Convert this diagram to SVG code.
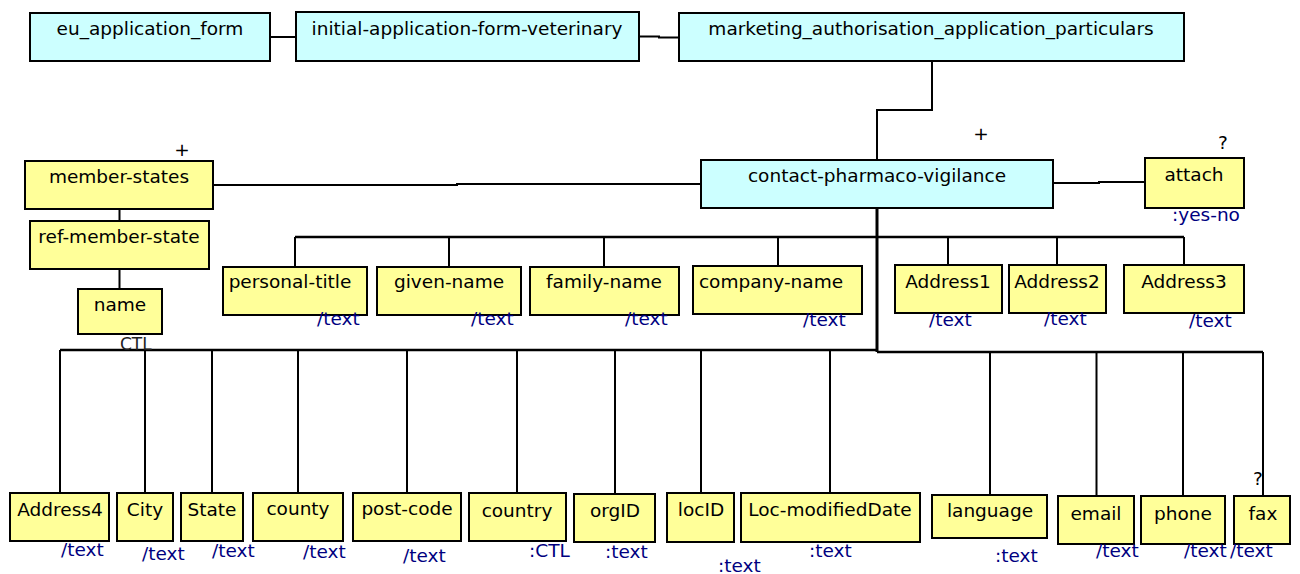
<svg xmlns="http://www.w3.org/2000/svg" width="1300" height="574" viewBox="0 0 1300 574">
<style>
rect.c{fill:#CCFFFF;stroke:#000;stroke-width:2}
rect.y{fill:#FFFF99;stroke:#000;stroke-width:2}
text{font-family:"DejaVu Sans","Liberation Sans",sans-serif;font-size:18.5px;fill:#000}
text.n{text-anchor:middle}
text.t{fill:#000080}
text.m{text-anchor:middle}
#connectors path,#connectors line{fill:none;stroke:#000;stroke-width:2}
</style>
<rect width="1300" height="574" fill="#fff"/>
<g id="connectors">
<line x1="270" y1="37" x2="296" y2="37"/>
<path d="M639 36.5H659V37.5H679"/>
<path d="M932 61V110H877V160"/>
<path d="M701 184H457V185H213"/>
<path d="M1053 183H1099V182H1145"/>
<line x1="119.5" y1="209" x2="119.5" y2="221"/>
<line x1="119.5" y1="269" x2="119.5" y2="289"/>
<line x1="877" y1="208" x2="877" y2="352" style="stroke-width:3"/>
<line x1="295" y1="237" x2="1184" y2="237" style="stroke-width:2.5"/>
<path d="M295 237V267M449 237V267M604 237V267M778 237V266M948 237V265M1057 237V265M1184 237V265"/>
<line x1="60" y1="350" x2="877" y2="350" style="stroke-width:2.5"/>
<line x1="877" y1="352" x2="1263" y2="352" style="stroke-width:2.5"/>
<path d="M60 350V493M145 350V493M212 350V493M298 350V493M407 350V493M517 350V493M615 350V494M701 350V493M830 350V493M990 352V495M1096.5 352V496M1183 352V496M1263 352V496"/>
</g>
<g id="eu_application_form"><rect class="c" x="30" y="13" width="240" height="48"/><text class="n" x="150" y="35">eu_application_form</text></g>
<g id="initial-application-form-veterinary"><rect class="c" x="296" y="12" width="343" height="49"/><text class="n" x="467" y="34.5">initial-application-form-veterinary</text></g>
<g id="marketing_authorisation_application_particulars"><rect class="c" x="679" y="13" width="505" height="48"/><text class="n" x="931" y="35">marketing_authorisation_application_particulars</text></g>
<g id="contact-pharmaco-vigilance"><rect class="c" x="701" y="160" width="352" height="48"/><text class="n" x="877" y="182">contact-pharmaco-vigilance</text><text class="m" x="981" y="140">+</text></g>
<g id="member-states"><rect class="y" x="25" y="161" width="188" height="48"/><text class="n" x="119" y="183">member-states</text><text class="m" x="182" y="156">+</text></g>
<g id="ref-member-state"><rect class="y" x="30" y="221" width="179" height="48"/><text class="n" x="119" y="243">ref-member-state</text></g>
<g id="name"><rect class="y" x="78" y="289" width="84" height="45"/><text class="n" x="120" y="311">name</text><text x="120" y="349.5" style="font-size:17px;fill:#222">CTL</text></g>
<g id="attach"><rect class="y" x="1145" y="158" width="99" height="50"/><text class="n" x="1194" y="181">attach</text><text class="m" x="1223" y="149">?</text><text class="t" x="1172" y="221">:yes-no</text></g>
<g id="personal-title"><rect class="y" x="223" y="267" width="144" height="48"/><text class="n" x="290" y="288">personal-title</text><text class="t" x="317" y="325">/text</text></g>
<g id="given-name"><rect class="y" x="377" y="267" width="144" height="48"/><text class="n" x="449" y="288">given-name</text><text class="t" x="471" y="325">/text</text></g>
<g id="family-name"><rect class="y" x="530" y="267" width="149" height="48"/><text class="n" x="604" y="288">family-name</text><text class="t" x="625" y="325">/text</text></g>
<g id="company-name"><rect class="y" x="693" y="266" width="169" height="48"/><text class="n" x="771" y="288">company-name</text><text class="t" x="803" y="326">/text</text></g>
<g id="Address1"><rect class="y" x="895" y="265" width="107" height="48"/><text class="n" x="948" y="288">Address1</text><text class="t" x="929" y="326">/text</text></g>
<g id="Address2"><rect class="y" x="1009" y="265" width="97" height="48"/><text class="n" x="1057" y="288">Address2</text><text class="t" x="1044" y="325">/text</text></g>
<g id="Address3"><rect class="y" x="1124" y="265" width="120" height="48"/><text class="n" x="1184" y="288">Address3</text><text class="t" x="1189" y="327">/text</text></g>
<g id="Address4"><rect class="y" x="10" y="493" width="99" height="48"/><text class="n" x="60" y="516">Address4</text><text class="t" x="61" y="556">/text</text></g>
<g id="City"><rect class="y" x="117" y="493" width="56" height="48"/><text class="n" x="145" y="516">City</text><text class="t" x="142" y="560">/text</text></g>
<g id="State"><rect class="y" x="181" y="493" width="62" height="48"/><text class="n" x="212" y="516">State</text><text class="t" x="212" y="557">/text</text></g>
<g id="county"><rect class="y" x="253" y="493" width="90" height="48"/><text class="n" x="298" y="515">county</text><text class="t" x="303" y="558">/text</text></g>
<g id="post-code"><rect class="y" x="353" y="493" width="108" height="48"/><text class="n" x="407" y="515">post-code</text><text class="t" x="403" y="562">/text</text></g>
<g id="country"><rect class="y" x="469" y="493" width="97" height="48"/><text class="n" x="517" y="517">country</text><text class="t" x="529" y="557">:CTL</text></g>
<g id="orgID"><rect class="y" x="574" y="494" width="81" height="48"/><text class="n" x="615" y="517">orgID</text><text class="t" x="605" y="558">:text</text></g>
<g id="locID"><rect class="y" x="667" y="493" width="67" height="49"/><text class="n" x="701" y="516">locID</text><text class="t" x="718" y="572">:text</text></g>
<g id="Loc-modifiedDate"><rect class="y" x="741" y="493" width="179" height="49"/><text class="n" x="830" y="516">Loc-modifiedDate</text><text class="t" x="809" y="557">:text</text></g>
<g id="language"><rect class="y" x="932" y="495" width="115" height="43"/><text class="n" x="990" y="517">language</text><text class="t" x="995" y="562">:text</text></g>
<g id="email"><rect class="y" x="1058" y="496" width="76" height="48"/><text class="n" x="1096" y="520">email</text><text class="t" x="1096" y="557">/text</text></g>
<g id="phone"><rect class="y" x="1141" y="496" width="84" height="48"/><text class="n" x="1183" y="520">phone</text><text class="t" x="1184" y="557">/text</text></g>
<g id="fax"><rect class="y" x="1234" y="496" width="56" height="48"/><text class="n" x="1263" y="520">fax</text><text class="m" x="1258" y="485">?</text><text class="t" x="1230" y="557">/text</text></g>
</svg>
